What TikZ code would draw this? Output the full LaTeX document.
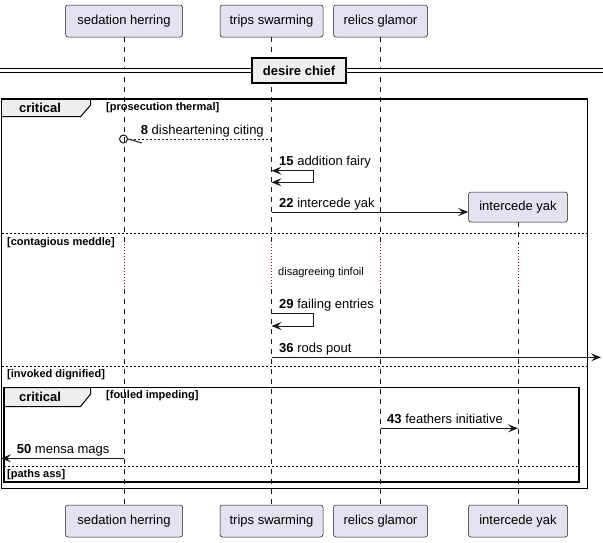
\documentclass[tikz,border=0pt]{standalone}
\usepackage{fontspec}
\setmainfont{Liberation Sans}
\usetikzlibrary{arrows.meta}

\definecolor{partfill}{HTML}{E2E2F0}
\definecolor{linecol}{HTML}{181818}
\definecolor{tabfill}{HTML}{EEEEEE}
\definecolor{delaycol}{HTML}{A80036}

\tikzset{
  part/.style={draw=linecol, fill=partfill, rounded corners=2.5pt, line width=0.5pt,
    minimum height=32pt, inner sep=0pt, font=\fontsize{13}{15}\selectfont},
  life/.style={draw=linecol, line width=0.5pt, dash pattern=on 5pt off 5pt},
  delayline/.style={draw=delaycol, line width=0.8pt, dash pattern=on 1pt off 2pt},
  msg/.style={draw=linecol, line width=1pt, ->},
  msglabel/.style={anchor=base west, inner sep=0pt, font=\fontsize{13}{15}\selectfont},
  grpframe/.style={draw=black, line width=1.5pt},
  grptab/.style={draw=black, line width=1pt, fill=tabfill},
  grpname/.style={font=\bfseries\fontsize{13}{15}\selectfont, inner sep=0pt},
  grplabel/.style={font=\bfseries\fontsize{11}{13}\selectfont, inner sep=0pt, anchor=west},
  sepline/.style={draw=black, line width=0.6pt, dash pattern=on 2pt off 2pt},
}

\begin{document}
\begin{tikzpicture}[x=1pt, y=-1pt, >={Stealth[length=10pt,width=8pt,inset=4pt]}]
   \useasboundingbox (0,0) rectangle (603,542);

   % participants, top and bottom
   \node[part, minimum width=117pt] (sedT) at (124,21) {sedation herring};
   \node[part, minimum width=103pt] (trpT) at (271.5,21) {trips swarming};
   \node[part, minimum width=94pt] (relT) at (380.5,21) {relics glamor};
   \node[part, minimum width=99pt, minimum height=30pt] (yakT) at (518,207) {intercede yak};

   \node[part, minimum width=117pt] (sedB) at (124,521) {sedation herring};
   \node[part, minimum width=103pt] (trpB) at (271.5,521) {trips swarming};
   \node[part, minimum width=94pt] (relB) at (380.5,521) {relics glamor};
   \node[part, minimum width=99pt] (yakB) at (518,521) {intercede yak};

   % lifelines with the delay part dotted
   \foreach \p in {sed,trp,rel,yak} {
     \coordinate (\p-d1) at (\p T.south |- 0,244);
     \coordinate (\p-d2) at (\p T.south |- 0,289);
     \draw[life] (\p T.south) -- (\p-d1);
     \draw[delayline] (\p-d1) -- (\p-d2);
     \draw[life] (\p-d2) -- (\p B.north);
   }

   % divider
   \coordinate (divL) at (0,70.25);
   \coordinate (divR) at (603,70.25);
   \draw[double=white, double distance=2.5pt, line width=1pt] (divL) -- (divR);
   \node[draw=black, line width=1.5pt, fill=tabfill, minimum width=94pt, minimum height=25pt,
     inner sep=0pt, font=\bfseries\fontsize{13}{15}\selectfont] (div) at (299,70.5) {desire chief};

   % outer critical group
   \draw[grptab] (1.5,99) -- (90.7,99) -- (90.7,105) -- (80.5,116.7) -- (1.5,116.7);
   \draw[grpframe] (1.5,99) rectangle (587.5,488.5);
   \node[grpname] (crit1) at (40,108) {critical};
   \node[grplabel] (cond1) at (106,107.5) {[prosecution thermal]};
   \draw[sepline] (1.5,233) -- (587.5,233);
   \node[grplabel] (cond2) at (7,243) {[contagious meddle]};
   \draw[sepline] (1.5,366) -- (587.5,366);
   \node[grplabel] (cond3) at (7,374.5) {[invoked dignified]};

   % inner critical group
   \draw[grptab] (4,387.5) -- (90.7,387.5) -- (90.7,394) -- (80.5,406.5) -- (4,406.5);
   \draw[grpframe] (4,387.5) rectangle (579,482);
   \node[grpname] (crit2) at (40,397) {critical};
   \node[grplabel] (cond4) at (106,396) {[fouled impeding]};
   \draw[sepline] (4,466.7) -- (579,466.7);
   \node[grplabel] (cond5) at (7,475) {[paths ass]};

   % 8
   \coordinate (m8s) at (271.5,139);
   \node[circle, draw=linecol, line width=1pt, minimum size=8pt, inner sep=0pt] (m8c) at (123.5,139) {};
   \draw[linecol, line width=0.8pt, dash pattern=on 2pt off 2pt] (m8s) -- (m8c.east);
   \draw[linecol, line width=1pt] (m8c.east) -- ++(14,4);
   \node[msglabel] (l8) at (140.7,134) {\textbf{8} disheartening citing};

   % 15
   \coordinate (m15a) at (271.5,170.7);
   \coordinate (m15b) at (313,170.7);
   \coordinate (m15c) at (313,182.3);
   \coordinate (m15d) at (271.5,182.3);
   \draw[draw=linecol, line width=1pt, <->] (m15a) -- (m15b) -- (m15c) -- (m15d);
   \node[msglabel] (l15) at (279,165.5) {\textbf{15} addition fairy};

   % 22
   \coordinate (m22s) at (271.5,212);
   \draw[msg] (m22s) -- (m22s -| yakT.west);
   \node[msglabel] (l22) at (279,207) {\textbf{22} intercede yak};

   % delay
   \node[anchor=west, inner sep=0pt, font=\fontsize{11}{13}\selectfont] (dly) at (278,272.7) {disagreeing tinfoil};

   % 29
   \coordinate (m29a) at (271.5,313.3);
   \coordinate (m29b) at (313,313.3);
   \coordinate (m29c) at (313,326);
   \coordinate (m29d) at (271.5,326);
   \draw[msg] (m29a) -- (m29b) -- (m29c) -- (m29d);
   \node[msglabel] (l29) at (279,308.3) {\textbf{29} failing entries};

   % 36
   \coordinate (m36s) at (271.5,357.3);
   \coordinate (m36e) at (601,357.3);
   \draw[msg] (m36s) -- (m36e);
   \node[msglabel] (l36) at (279,352.3) {\textbf{36} rods pout};

   % 43
   \coordinate (m43s) at (380.5,428.3);
   \draw[msg] (m43s) -- (m43s -| yakB.north);
   \node[msglabel] (l43) at (387,423.3) {\textbf{43} feathers initiative};

   % 50
   \coordinate (m50s) at (124,458.3);
   \coordinate (m50e) at (1,458.3);
   \draw[msg] (m50s) -- (m50e);
   \node[msglabel] (l50) at (16.7,453.3) {\textbf{50} mensa mags};
\end{tikzpicture}
\end{document}
